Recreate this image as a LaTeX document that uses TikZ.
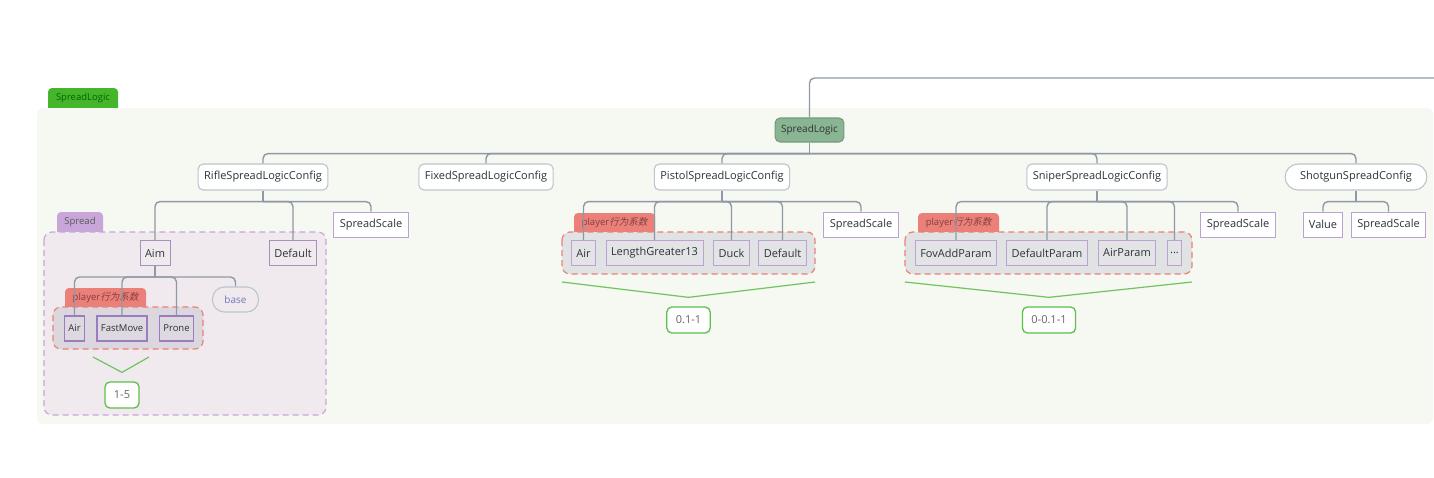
\documentclass[tikz,border=0pt]{standalone}
\usepackage{fontspec}
\setmainfont{Open Sans}
\newfontfamily\cjk[FakeSlant=0.25]{Noto Sans CJK SC}
\usepackage{xcolor}
\usetikzlibrary{calc}
\definecolor{xline}{HTML}{8E99A5}
\definecolor{xtext}{HTML}{2E3238}
\definecolor{xarea}{HTML}{F6F8F2}
\definecolor{xgreen}{HTML}{45B62C}
\definecolor{xroot}{HTML}{8AB592}
\definecolor{xcfg}{HTML}{BCC4CE}
\definecolor{xpurple}{HTML}{BBA2D2}
\definecolor{xdpurple}{HTML}{9A7DBF}
\definecolor{xspread}{HTML}{C9A6D9}
\definecolor{xspreadbg}{HTML}{F0EAEF}
\definecolor{xred}{HTML}{EA8078}
\definecolor{xgraybg}{HTML}{E1E2E4}
\definecolor{xleaf}{HTML}{E3E4E6}
\definecolor{xval}{HTML}{5CC04A}

\begin{document}
\begin{tikzpicture}[
    x=1pt, y=-1pt,
    conn/.style={draw=xline, line width=1.4pt, rounded corners=5pt},
    cfg/.style={rectangle, draw=xcfg, line width=1.1pt, fill=white, rounded corners=5pt, minimum height=26pt, inner xsep=6pt, font=\fontsize{11}{13}\selectfont, text=xtext},
    leaf/.style={rectangle, draw=xpurple, line width=0.9pt, fill=#1, minimum height=25pt, inner xsep=5pt, font=\fontsize{11}{13}\selectfont, text=xtext},
    tab/.style={fill=#1, rounded corners=4pt},
    tabtext/.style={font=\fontsize{9.5}{11}\selectfont, text=#1},
    group/.style={fill=#1, dash pattern=on 6pt off 4pt, line width=1.2pt, rounded corners=8pt},
    val/.style={rectangle, draw=xval, line width=1.3pt, fill=white, rounded corners=5pt, minimum height=26pt, inner xsep=9pt, font=\fontsize{11}{13}\selectfont, text=black!60},
    vline/.style={draw=xval!90, line width=1.2pt},
]
\useasboundingbox (0,0) rectangle (1434,477);

% Outer frame
\fill[tab=xgreen] (48,88) rectangle (118,114);
\node[tabtext=green!40!black] (tabmain) at (83,98) {SpreadLogic};
\fill[xarea, rounded corners=6pt] (37,108) rectangle (1433,424);

% Groups
\fill[tab=xspread] (57,212) rectangle (103,236);
\node[tabtext=black!65] (tabspread) at (80,222) {Spread};
\draw[group=xspreadbg, draw=xspread] (44,232) rectangle (326,415);
\foreach \x/\y/\n in {65/288/rifle, 574/213/pistol, 918/213/sniper} {
    \fill[tab=xred] (\x,\y) rectangle ++(81,23);
    \node[tabtext=red!35!black!75] (tab\n) at ($(\x,\y)+(40.5,9.5)$) {player{\cjk 行为系数}};
}
\draw[group=xgraybg!95!violet, draw=xred] (53,307) rectangle (203,349);
\draw[group=xgraybg, draw=xred] (562,232) rectangle (815,274);
\draw[group=xgraybg, draw=xred] (905,232) rectangle (1192,274);

% Root and configs
\node[cfg, fill=xroot, draw=xroot!85!black, font=\fontsize{10}{12}\selectfont, minimum height=24pt, inner xsep=6pt] (root) at (809.5,130) {SpreadLogic};
\node[cfg] (rifle) at (263,177) {RifleSpreadLogicConfig};
\node[cfg] (fixed) at (486,177) {FixedSpreadLogicConfig};
\node[cfg] (pistol) at (722,177) {PistolSpreadLogicConfig};
\node[cfg] (sniper) at (1097,177) {SniperSpreadLogicConfig};
\node[cfg, rounded corners=13pt, inner xsep=15pt] (shotgun) at (1356,177) {ShotgunSpreadConfig};

% Rifle
\node[leaf=xspreadbg, draw=xpurple!90!black] (aim) at (155,253) {Aim};
\node[leaf=xspreadbg, draw=xpurple!90!black] (rdef) at (293,253) {Default};
\node[leaf=white, inner xsep=6pt] (rscale) at (371,224.5) {SpreadScale};
\foreach \name/\x/\t in {rair/74.5/Air, rfast/122/FastMove, rprone/176.5/Prone}
    \node[leaf=xleaf!95!violet, draw=xdpurple, line width=1.4pt, font=\fontsize{9.5}{11}\selectfont, inner xsep=4pt] (\name) at (\x,328.5) {\t};
\node[cfg, fill=xspreadbg, rounded corners=12pt, minimum height=25pt, inner xsep=12pt, text=xline!80!blue, font=\fontsize{10}{12}\selectfont] (base) at (235.5,299.5) {base};

% Pistol
\foreach \name/\x/\t in {pair/583.5/Air, plen/654.5/LengthGreater13, pduck/731.5/Duck, pdef/782.5/Default}
    \node[leaf=xleaf] (\name) at (\x,253) {\t};
\node[leaf=white, inner xsep=6pt] (pscale) at (861,224.5) {SpreadScale};

% Sniper
\foreach \name/\x/\t in {sfov/956/FovAddParam, sdef/1047/DefaultParam, sair/1127/AirParam}
    \node[leaf=xleaf] (\name) at (\x,253) {\t};
\node[leaf=xleaf, inner xsep=3pt] (sdots) at (1174.5,253) {...};
\node[leaf=white, inner xsep=6pt] (sscale) at (1238,224.5) {SpreadScale};

% Shotgun
\node[leaf=white] (gval) at (1323,224.5) {Value};
\node[leaf=white, inner xsep=6pt] (gscale) at (1388.5,224.5) {SpreadScale};

% Value ranges
\node[val] (v15) at (122,395) {1-5};
\node[val] (v01) at (688.5,320) {0.1-1};
\node[val] (v001) at (1049,320) {0-0.1-1};
\draw[vline] (93,357) -- ($(v15.north)+(0,-9)$) -- (149,357);
\draw[vline] (562,282) -- ($(v01.north)+(0,-9)$) -- (815,282);
\draw[vline] (905,282) -- ($(v001.north)+(0,-9)$) -- (1192,282);

% Connectors
\coordinate (exit) at (1434,78);
\draw[conn] (root.north) |- (exit);
\foreach \p/\cs in {root/{rifle,fixed,pistol,sniper,shotgun}, rifle/{aim,rdef,rscale}, aim/{rair,rfast,rprone,base}, pistol/{pair,plen,pduck,pdef,pscale}, sniper/{sfov,sdef,sair,sdots,sscale}, shotgun/{gval,gscale}} {
    \draw[conn] (\p.south) -- ++(0,11);
    \foreach \c in \cs
        \draw[conn] ($(\p.south)+(0,11)$) -| (\c.north);
}

\end{tikzpicture}
\end{document}
